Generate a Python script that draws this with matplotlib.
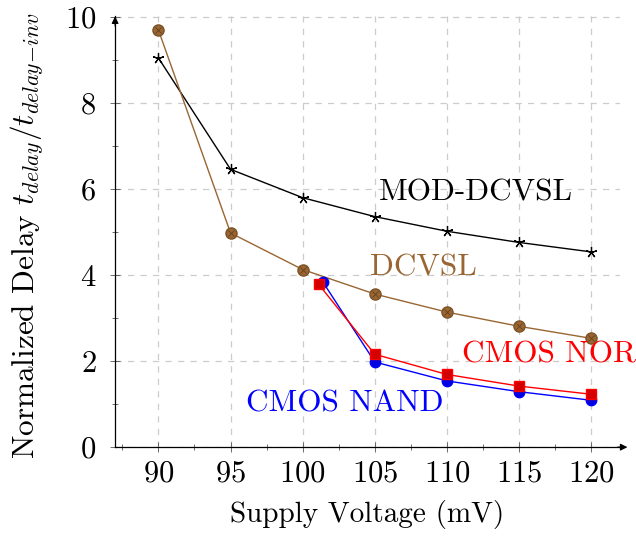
import matplotlib
matplotlib.use("Agg")
from matplotlib import pyplot as plt
from matplotlib.ticker import MultipleLocator

plt.rcParams["font.family"] = "serif"
plt.rcParams["font.serif"] = ["cmr10"]
plt.rcParams["mathtext.fontset"] = "cm"
plt.rcParams["axes.formatter.use_mathtext"] = True

# Supply voltage (mV) and normalized delay per logic style
volt = [90, 95, 100, 105, 110, 115, 120]
mod_dcvsl = [9.05, 6.46, 5.80, 5.36, 5.02, 4.76, 4.54]
dcvsl = [9.70, 4.98, 4.13, 3.56, 3.14, 2.81, 2.53]

nand_volt = [101.4, 105, 110, 115, 120]
cmos_nand = [3.84, 1.98, 1.54, 1.29, 1.09]
nor_volt = [101.1, 105, 110, 115, 120]
cmos_nor = [3.79, 2.16, 1.69, 1.42, 1.23]

brown = "#996633"

fig = plt.figure(figsize=(6.36, 5.44), dpi=100)
ax = fig.add_axes([0.181, 0.178, 0.794, 0.793])

ax.plot(volt, mod_dcvsl, color="black", lw=1, marker=(5, 2, 0), ms=8, mew=0.9)
ax.plot(volt, dcvsl, color=brown, lw=1, marker="o", ms=8, mfc=brown, mec="#7a5226")
ax.plot(volt, dcvsl, ls="none", marker="x", ms=5, mew=0.7, color="#6b4520")
ax.plot(nand_volt, cmos_nand, color="blue", lw=1, marker="o", ms=7.5, mfc="#0000e0", mec="blue")
ax.plot(nor_volt, cmos_nor, color="red", lw=1, marker="s", ms=7.5, mfc="#d40000", mec="red")

ax.text(112.0, 5.93, "MOD-DCVSL", color="black", fontsize=22.5, ha="center", va="center")
ax.text(108.4, 4.18, "DCVSL", color=brown, fontsize=22.5, ha="center", va="center")
ax.text(117.1, 2.16, "CMOS NOR", color="red", fontsize=22.5, ha="center", va="center")
ax.text(102.9, 1.02, "CMOS NAND", color="blue", fontsize=22.5, ha="center", va="center")

ax.set_xlim(87, 122)
ax.set_ylim(0, 10.03)
ax.xaxis.set_major_locator(MultipleLocator(5))
ax.xaxis.set_minor_locator(MultipleLocator(2.5))
ax.yaxis.set_major_locator(MultipleLocator(2))
ax.yaxis.set_minor_locator(MultipleLocator(1))
ax.tick_params(which="both", direction="inout", labelsize=22, color="#555555")
ax.tick_params(which="major", length=7, width=0.6)
ax.tick_params(axis="x", which="major", pad=6)
ax.tick_params(axis="y", which="major", pad=10)
ax.tick_params(which="minor", length=4, width=0.6)
ax.grid(True, which="major", ls=(0, (5, 5)), color="#cccccc", lw=0.9)

for side in ["top", "right"]:
    ax.spines[side].set_visible(False)
for side in ["left", "bottom"]:
    ax.spines[side].set_linewidth(0.9)

# arrow heads on the axis lines
ax.annotate("", xy=(1.02, 0), xytext=(0.99, 0), xycoords="axes fraction",
            arrowprops=dict(arrowstyle="-|>", color="black", lw=0.9, mutation_scale=10))
ax.annotate("", xy=(0, 1.005), xytext=(0, 0.97), xycoords="axes fraction",
            arrowprops=dict(arrowstyle="-|>", color="black", lw=0.9, mutation_scale=10))

ax.set_xlabel("Supply Voltage (mV)", fontsize=21, labelpad=9)
ax.set_ylabel(r"Normalized Delay $t_{delay}/t_{delay\!-\!inv}$", fontsize=22.5, labelpad=12)
ax.yaxis.set_label_coords(-0.137, 0.49)

fig.savefig("out.png", dpi=100)
